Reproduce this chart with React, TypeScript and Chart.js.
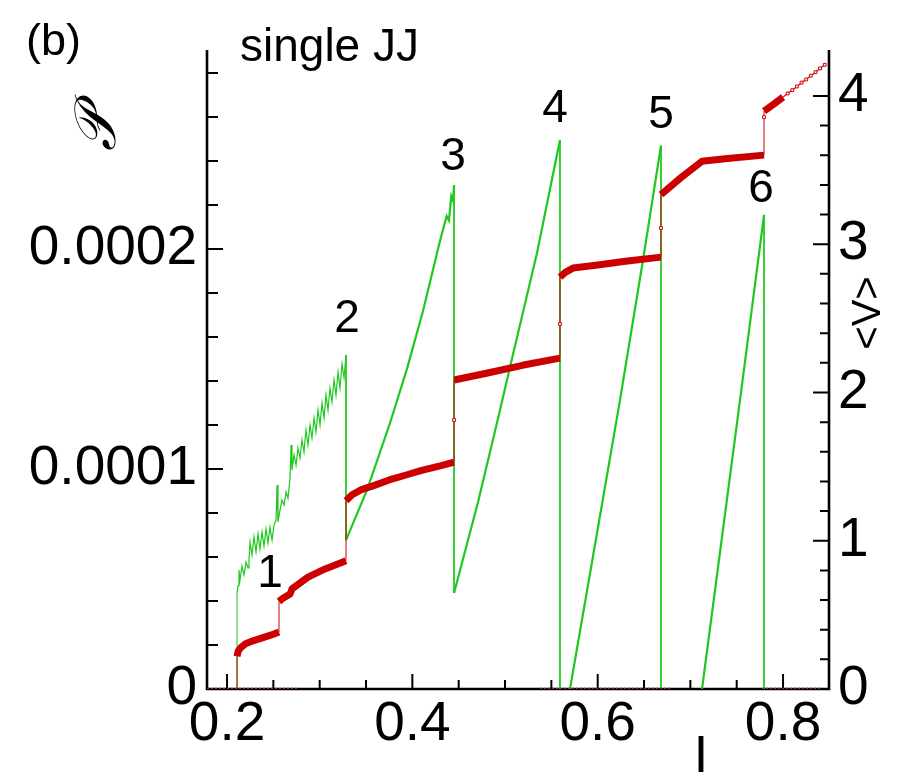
import React, { useEffect, useRef } from 'react';
import { Chart, registerables } from 'chart.js';

Chart.register(...registerables);

// ---------- data (current I, power P in units of 1e-4, mean voltage <V>) ----------
const P_UNIT = 1e-4;

// Power, step 1 (noisy band), incl. rise from zero at switching current
const pStep1I = [0.2108, 0.2108, 0.2119, 0.2129, 0.2140, 0.2162, 0.2183, 0.2205, 0.2227, 0.2237,
  0.2248, 0.2270, 0.2291, 0.2313, 0.2335, 0.2356, 0.2378, 0.2399, 0.2421, 0.2442,
  0.2464, 0.2486, 0.2507, 0.2529, 0.2540, 0.2550, 0.2572, 0.2594, 0.2615, 0.2637,
  0.2658, 0.2680, 0.2691, 0.2701, 0.2723, 0.2745, 0.2766, 0.2788, 0.2809, 0.2831,
  0.2852, 0.2874, 0.2896, 0.2917, 0.2939, 0.2960, 0.2982, 0.3004, 0.3025, 0.3047,
  0.3068, 0.3090, 0.3111, 0.3133, 0.3155, 0.3176, 0.3198, 0.3219, 0.3241, 0.3263, 0.3284];
const pStep1P = [0, 0.436, 0.47, 0.541, 0.495, 0.559, 0.518, 0.577, 0.550, 0.586,
  0.668, 0.609, 0.691, 0.623, 0.705, 0.636, 0.714, 0.650, 0.727, 0.664,
  0.736, 0.677, 0.745, 0.768, 0.927, 0.759, 0.814, 0.859, 0.836, 0.895,
  0.868, 0.959, 1.109, 0.995, 1.064, 1.018, 1.095, 1.050, 1.132, 1.077,
  1.177, 1.109, 1.200, 1.141, 1.232, 1.168, 1.268, 1.200, 1.300, 1.232,
  1.336, 1.268, 1.368, 1.305, 1.405, 1.336, 1.441, 1.368, 1.477, 1.414, 1.518];

const pStep2I = [0.3284, 0.3511, 0.3759, 0.3942, 0.4115, 0.4298, 0.4370, 0.4395, 0.4420, 0.4439, 0.4450];
const pStep2P = [0.677, 0.905, 1.209, 1.455, 1.718, 2.036, 2.15, 2.13, 2.24, 2.22, 2.29];

const pStep3I = [0.4450, 0.4709, 0.4946, 0.5054, 0.5345, 0.5593, 0.5593];
const pStep3P = [0.436, 0.85, 1.268, 1.464, 1.982, 2.495, 0];

const pStep4I = [0.5701, 0.5993, 0.6241, 0.6489, 0.6683, 0.6683];
const pStep4P = [0, 0.709, 1.314, 1.95, 2.47, 0];

const pStep5I = [0.7126, 0.7536, 0.7795, 0.7795];
const pStep5P = [0, 1.314, 2.155, 0];

// Mean voltage <V>, plateaus (Shapiro-like steps)
const vStep1I = [0.2108, 0.2108, 0.2120, 0.2150, 0.2200, 0.2280, 0.2380, 0.2480, 0.2561];
const vStep1V = [0, 0.22, 0.255, 0.28, 0.305, 0.325, 0.345, 0.365, 0.385];
const vStep2I = [0.2561, 0.2600, 0.2680, 0.2701, 0.2874, 0.3058, 0.3284];
const vStep2V = [0.59, 0.61, 0.64, 0.675, 0.755, 0.81, 0.865];
const vStep3I = [0.3284, 0.3350, 0.3450, 0.3575, 0.3750, 0.3942, 0.4100, 0.4300, 0.4450];
const vStep3V = [1.27, 1.31, 1.345, 1.37, 1.41, 1.445, 1.475, 1.505, 1.53];
const vStep4I = [0.4450, 0.4800, 0.5200, 0.5593];
const vStep4V = [2.084, 2.13, 2.185, 2.232];
const vStep5I = [0.5593, 0.5650, 0.5734, 0.6000, 0.6300, 0.6683];
const vStep5V = [2.778, 2.81, 2.839, 2.86, 2.885, 2.913];
const vStep6I = [0.6683, 0.6900, 0.7126, 0.7400, 0.7795];
const vStep6V = [3.335, 3.45, 3.56, 3.578, 3.601];
const vStep7I = [0.7795, 0.7900, 0.8000];
const vStep7V = [3.898, 3.945, 3.992];
const vTailI = [0.8000, 0.8050, 0.8100, 0.8150, 0.8200, 0.8250, 0.8300, 0.8350, 0.8400, 0.8450];
const vTailV = [3.992, 4.017, 4.039, 4.064, 4.090, 4.111, 4.137, 4.160, 4.186, 4.210];

// intermediate points on the voltage jumps
const jumpI = [0.4450, 0.5593, 0.6683, 0.7795];
const jumpV = [1.814, 2.461, 3.109, 3.857];

// zero-voltage runs along the I axis
const zeroRunStartI = [0.1784, 0.5378, 0.7773];
const zeroRunEndI = [0.2755, 0.6802, 0.8403];

// axes
const xMajorTicks = [0.2, 0.4, 0.6, 0.8];
const xTickLabels = ['0.2', '0.4', '0.6', '0.8'];
const pMajorTicks = [0, 0.0001, 0.0002];
const pTickLabels = ['0', '0.0001', '0.0002'];
const vMajorTicks = [0, 1, 2, 3, 4];
const vTickLabels = ['0', '1', '2', '3', '4'];
const stepLabels = ['1', '2', '3', '4', '5', '6'];

// ---------- presentation ----------
const FONT = '"Liberation Sans", Arial, Helvetica, sans-serif';
const GREEN = '#1ec81e';
const RED = '#cc0000';

const stepLabelPos = [
  [270, 587], [347, 332], [453, 170], [555, 122], [661, 128], [761, 202],
];

function pts(xs: number[], ys: number[], scale = 1) {
  return xs.map((x, i) => ({ x, y: ys[i] * scale }));
}

function labelFor(majors: number[], labels: string[], v: number, tol: number) {
  for (let i = 0; i < majors.length; i++) {
    if (Math.abs(majors[i] - v) < tol) return labels[i];
  }
  return '';
}

const axesPlugin = {
  id: 'innerAxes',
  beforeDatasetsDraw(chart: any) {
    const { ctx, chartArea: a, scales } = chart;
    ctx.save();
    ctx.strokeStyle = '#000';
    ctx.lineCap = 'butt';
    ctx.lineWidth = 2;
    ctx.beginPath();
    for (const t of scales.x.ticks) {
      const px = scales.x.getPixelForValue(t.value);
      const len = t.label ? 15 : 9;
      ctx.moveTo(px, a.bottom);
      ctx.lineTo(px, a.bottom - len);
    }
    for (const t of scales.y.ticks) {
      const py = scales.y.getPixelForValue(t.value);
      const len = t.label ? 16 : 11;
      ctx.moveTo(a.left, py);
      ctx.lineTo(a.left + len, py);
    }
    for (const t of scales.y2.ticks) {
      const py = scales.y2.getPixelForValue(t.value);
      const len = t.label ? 16 : 9;
      ctx.moveTo(a.right, py);
      ctx.lineTo(a.right - len, py);
    }
    ctx.stroke();
    ctx.lineWidth = 2.6;
    ctx.lineJoin = 'miter';
    ctx.beginPath();
    ctx.moveTo(a.left, a.top);
    ctx.lineTo(a.left, a.bottom);
    ctx.lineTo(a.right, a.bottom);
    ctx.lineTo(a.right, a.top);
    ctx.stroke();
    ctx.restore();
  },
  afterDraw(chart: any) {
    const { ctx } = chart;
    ctx.save();
    ctx.fillStyle = '#000';
    ctx.textBaseline = 'alphabetic';
    ctx.textAlign = 'left';
    ctx.font = `45px ${FONT}`;
    ctx.fillText('(b)', 26, 55);
    ctx.font = `46px ${FONT}`;
    ctx.fillText('single JJ', 240, 61);
    ctx.textAlign = 'center';
    ctx.font = `46px ${FONT}`;
    stepLabels.forEach((s, i) => ctx.fillText(s, stepLabelPos[i][0], stepLabelPos[i][1]));
    ctx.font = `52px ${FONT}`;
    ctx.fillText('I', 701, 772);
    // rotated axis titles
    ctx.save();
    ctx.translate(100, 130);
    ctx.rotate(-Math.PI / 2);
    ctx.textBaseline = 'middle';
    ctx.font = `italic 58px "DejaVu Serif", serif`;
    ctx.fillText('\u{1D4AB}', 0, 0);
    ctx.restore();
    ctx.save();
    ctx.translate(869, 313);
    ctx.rotate(-Math.PI / 2);
    ctx.textBaseline = 'middle';
    ctx.font = `40px ${FONT}`;
    ctx.fillText('<V>', 0, 0);
    ctx.restore();
    ctx.restore();
  },
};

export default function App() {
  const ref = useRef<HTMLCanvasElement | null>(null);

  useEffect(() => {
    const canvas = ref.current;
    if (!canvas) return;

    const greenData: any[] = [
      ...pts(pStep1I, pStep1P, P_UNIT),
      ...pts(pStep2I, pStep2P, P_UNIT),
      ...pts(pStep3I, pStep3P, P_UNIT),
      { x: pStep3I[pStep3I.length - 1], y: null },
      ...pts(pStep4I, pStep4P, P_UNIT),
      { x: pStep4I[pStep4I.length - 1], y: null },
      ...pts(pStep5I, pStep5P, P_UNIT),
    ];
    const noisyCount = pStep1I.length;

    const redData: any[] = [
      ...pts(vStep1I, vStep1V),
      ...pts(vStep2I, vStep2V),
      ...pts(vStep3I, vStep3V),
      { x: jumpI[0], y: jumpV[0] },
      ...pts(vStep4I, vStep4V),
      { x: jumpI[1], y: jumpV[1] },
      ...pts(vStep5I, vStep5V),
      { x: jumpI[2], y: jumpV[2] },
      ...pts(vStep6I, vStep6V),
      { x: jumpI[3], y: jumpV[3] },
      ...pts(vStep7I, vStep7V),
      ...pts(vTailI, vTailV),
    ];

    const markerData = [...pts(jumpI, jumpV), ...pts(vTailI.slice(1), vTailV.slice(1))];

    const zeroData: any[] = [];
    zeroRunStartI.forEach((s, i) => {
      zeroData.push({ x: s, y: 0 }, { x: zeroRunEndI[i], y: 0 });
      if (i < zeroRunStartI.length - 1) zeroData.push({ x: zeroRunEndI[i], y: null });
    });

    const xTicks: number[] = [];
    for (let k = 0; k <= 12; k++) xTicks.push(+(0.2 + k * 0.05).toFixed(4));
    const pTicks: number[] = [];
    for (let k = 0; k <= 14; k++) pTicks.push(+(k * 0.00002).toFixed(6));
    const vTicks: number[] = [];
    for (let k = 0; k <= 20; k++) vTicks.push(+(k * 0.2).toFixed(2));

    const tickFont = { family: FONT, size: 55 };

    const chart = new Chart(canvas, {
      type: 'line',
      data: {
        datasets: [
          {
            label: 'markers',
            data: markerData,
            yAxisID: 'y2',
            showLine: false,
            pointStyle: 'rect',
            pointRadius: 2,
            pointBorderWidth: 1,
            pointBorderColor: RED,
            pointBackgroundColor: '#ffffff',
            order: 0,
          },
          {
            label: '<V>',
            data: redData,
            yAxisID: 'y2',
            borderColor: RED,
            borderWidth: 7,
            borderCapStyle: 'butt',
            borderJoinStyle: 'round',
            pointRadius: 0,
            spanGaps: false,
            order: 1,
            segment: {
              borderWidth: (c: any) =>
                c.p0.parsed.x === c.p1.parsed.x ? 1 : c.p0.parsed.x >= 0.7999 ? 1.2 : 7,
            },
          },
          {
            label: 'zero',
            data: zeroData,
            yAxisID: 'y2',
            borderColor: '#9a2a2a',
            borderWidth: 2.5,
            borderDash: [2, 2],
            pointRadius: 0,
            spanGaps: false,
            order: 2,
          },
          {
            label: 'P',
            data: greenData,
            yAxisID: 'y',
            borderColor: GREEN,
            borderWidth: 2,
            pointRadius: 0,
            spanGaps: false,
            order: 3,
            segment: {
              borderWidth: (c: any) =>
                c.p0.parsed.x === c.p1.parsed.x ? 1 : c.p1DataIndex < noisyCount ? 1.2 : 2.2,
            },
          },
        ],
      },
      options: {
        responsive: false,
        animation: false,
        events: [],
        layout: { padding: { top: 50, left: 0, right: 0, bottom: 0 } },
        plugins: {
          legend: { display: false },
          tooltip: { enabled: false },
          title: { display: false },
        },
        scales: {
          x: {
            type: 'linear',
            position: 'bottom',
            min: 0.1784,
            max: 0.8496,
            grid: { display: false, drawTicks: false },
            border: { display: false },
            afterBuildTicks: (s: any) => {
              s.ticks = xTicks.map((v) => ({ value: v }));
            },
            afterFit: (s: any) => {
              s.height = 90;
            },
            ticks: {
              autoSkip: false,
              maxRotation: 0,
              minRotation: 0,
              padding: 3,
              color: '#000',
              font: tickFont,
              callback: (v: any) => labelFor(xMajorTicks, xTickLabels, Number(v), 1e-4),
            },
          },
          y: {
            type: 'linear',
            position: 'left',
            min: 0,
            max: 0.00029045,
            grid: { display: false, drawTicks: false },
            border: { display: false },
            afterBuildTicks: (s: any) => {
              s.ticks = pTicks.map((v) => ({ value: v }));
            },
            afterFit: (s: any) => {
              s.width = 207;
            },
            ticks: {
              autoSkip: false,
              padding: 10,
              color: '#000',
              font: tickFont,
              callback: (v: any) => labelFor(pMajorTicks, pTickLabels, Number(v), 1e-7),
            },
          },
          y2: {
            type: 'linear',
            position: 'right',
            min: 0,
            max: 4.31,
            grid: { display: false, drawTicks: false },
            border: { display: false },
            afterBuildTicks: (s: any) => {
              s.ticks = vTicks.map((v) => ({ value: v }));
            },
            afterFit: (s: any) => {
              s.width = 68;
            },
            ticks: {
              autoSkip: false,
              padding: 9,
              color: '#000',
              font: tickFont,
              callback: (v: any) => labelFor(vMajorTicks, vTickLabels, Number(v), 1e-3),
            },
          },
        },
      },
      plugins: [axesPlugin],
    } as any);

    return () => chart.destroy();
  }, []);

  return (
    <div style={{ position: 'absolute', left: 0, top: 0, width: 897, height: 779, background: '#fff' }}>
      <canvas ref={ref} width={897} height={779} style={{ display: 'block', width: 897, height: 779 }} />
    </div>
  );
}
